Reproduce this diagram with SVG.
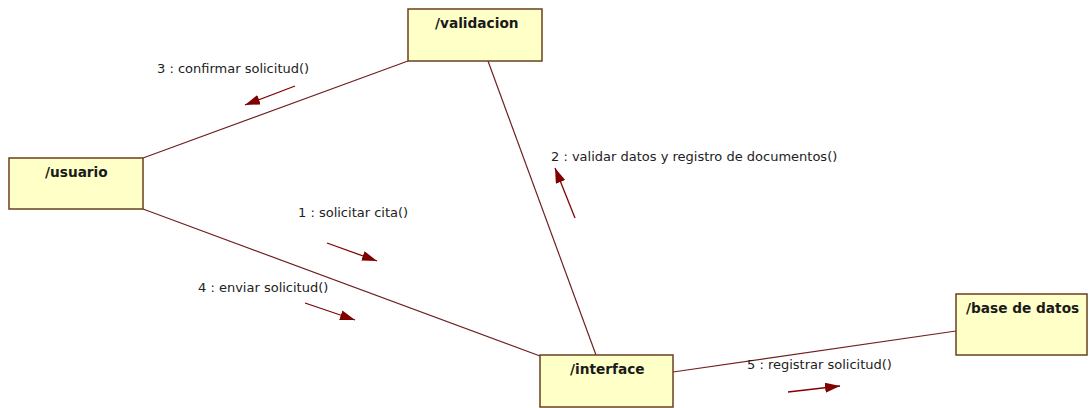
<svg xmlns="http://www.w3.org/2000/svg" width="1090" height="408" viewBox="0 0 1090 408">
<defs>
<marker id="ah" markerUnits="userSpaceOnUse" markerWidth="16" markerHeight="12" refX="15" refY="5" orient="auto">
<path d="M0,0 L15,5 L0,10 Z" fill="#800000"/>
</marker>
<style>
.node rect{fill:#ffffc8;stroke:#6b3f1f;stroke-width:1.5}
.node text{font-family:"DejaVu Sans",Verdana,sans-serif;font-weight:bold;font-size:13.7px;fill:#1a1a1a}
.conn{stroke:#702020;stroke-width:1.2;fill:none}
.msg{stroke:#800000;stroke-width:1.3;fill:none;marker-end:url(#ah)}
.lbl{font-family:"DejaVu Sans",Verdana,sans-serif;font-size:13px;fill:#222}
</style>
</defs>
<rect width="1090" height="408" fill="#fff"/>
<g id="connectors">
<line class="conn" x1="143" y1="158" x2="408" y2="61"/>
<line class="conn" x1="143" y1="209" x2="540" y2="356"/>
<line class="conn" x1="488" y1="61" x2="596" y2="355"/>
<line class="conn" x1="673" y1="372" x2="956" y2="331"/>
<line class="msg" x1="295" y1="86" x2="245" y2="105"/>
<line class="msg" x1="575" y1="218" x2="555" y2="168"/>
<line class="msg" x1="327" y1="243" x2="377" y2="261"/>
<line class="msg" x1="305" y1="303" x2="355" y2="320"/>
<line class="msg" x1="788" y1="392" x2="840" y2="386"/>
<text class="lbl" x="157" y="73">3 : confirmar solicitud()</text>
<text class="lbl" x="551" y="161">2 : validar datos y registro de documentos()</text>
<text class="lbl" x="298" y="217">1 : solicitar cita()</text>
<text class="lbl" x="198" y="292">4 : enviar solicitud()</text>
<text class="lbl" x="747" y="369">5 : registrar solicitud()</text>
</g>
<g id="validacion" class="node">
<rect x="408" y="9" width="134" height="52"/>
<text x="435" y="28">/validacion</text>
</g>
<g id="usuario" class="node">
<rect x="9" y="158" width="134" height="51"/>
<text x="45" y="177">/usuario</text>
</g>
<g id="interface" class="node">
<rect x="540" y="355" width="133" height="52"/>
<text x="570" y="374">/interface</text>
</g>
<g id="base_de_datos" class="node">
<rect x="956" y="294" width="131" height="61"/>
<text x="966" y="313">/base de datos</text>
</g>
</svg>
